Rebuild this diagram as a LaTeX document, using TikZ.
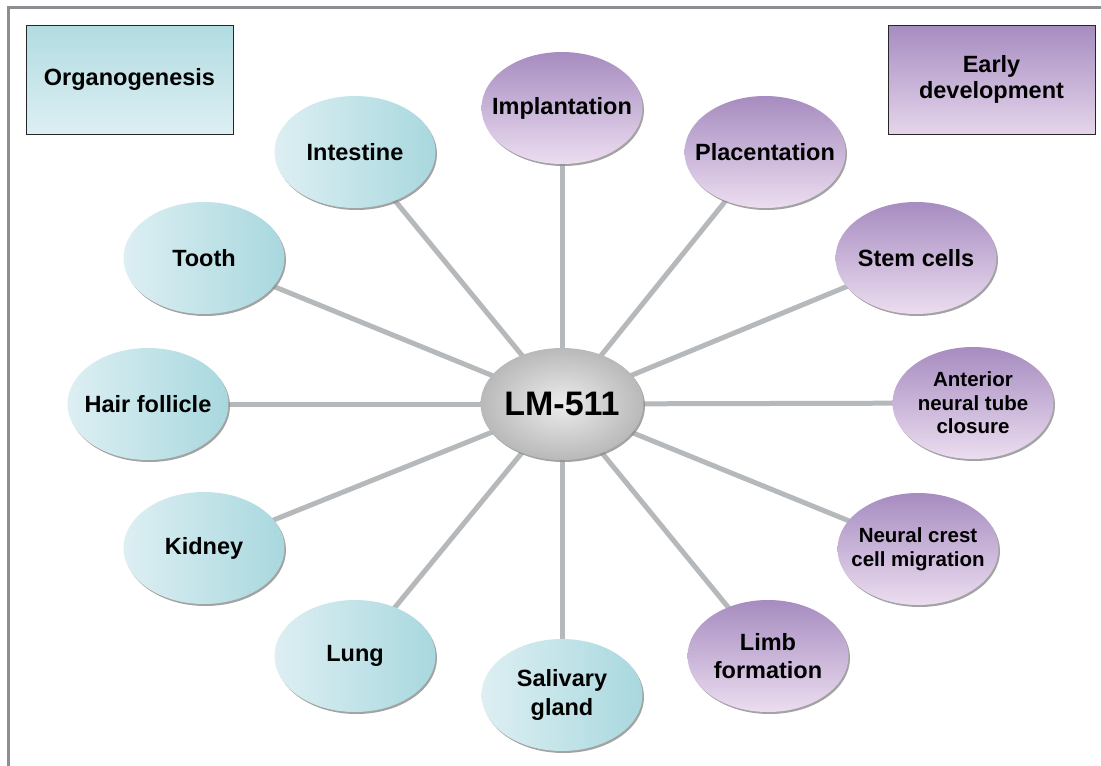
\documentclass[tikz,border=0pt]{standalone}
\usepackage{fontspec}
\setmainfont{Liberation Sans}
\usetikzlibrary{shadows,shapes.geometric}
\definecolor{tealL}{HTML}{DDEFF3}
\definecolor{tealD}{HTML}{A8D8DE}
\definecolor{purD}{HTML}{A68CC0}
\definecolor{purL}{HTML}{ECDDF0}
\definecolor{spoke}{HTML}{B5B9BB}
\definecolor{frame}{HTML}{8E8E92}
\tikzset{
  bub/.style={ellipse, minimum width=161pt, minimum height=112pt, inner sep=0pt, draw=none,
    drop shadow={shadow xshift=1.5pt, shadow yshift=-2pt, fill=black!45, opacity=0.8}},
  organ/.style={bub, left color=tealL, right color=tealD},
  early/.style={bub, top color=purD, bottom color=purL},
  txt/.style={align=center, font=\bfseries\fontsize{23.5}{28.5}\selectfont, inner sep=0pt},
  small/.style={align=center, font=\bfseries\fontsize{20.5}{23.5}\selectfont, inner sep=0pt},
  hub/.style={ellipse, minimum width=160pt, minimum height=112pt, inner sep=0pt,
    font=\bfseries\fontsize{34}{40}\selectfont, inner color=gray!15, outer color=gray!55,
    drop shadow={shadow xshift=1.5pt, shadow yshift=-2pt, fill=black!45, opacity=0.8}},
  box/.style={rectangle, draw=black!85, line width=1pt, minimum width=207pt, minimum height=109pt,
    inner sep=0pt, align=center, font=\bfseries\fontsize{23.5}{26.5}\selectfont},
  spk/.style={draw=spoke, line width=5pt}
}
\begin{document}
\begin{tikzpicture}[x=1pt,y=-1pt]
\useasboundingbox (0,0) rectangle (1101,766);
\draw[frame, line width=3pt] (8.5,766) -- (8.5,7) -- (1101,7);
\node[box, top color=tealD!90, bottom color=tealL] (og) at (129.5,79.5) {Organogenesis};
\node[box, top color=purD, bottom color=purL!90!purD] (ed) at (991.5,79.5) {Early\\development};
\coordinate (c) at (562,404);
\coordinate (p1) at (562,108);
\coordinate (p2) at (765,152);
\coordinate (p3) at (916,258);
\coordinate (p4) at (973,403);
\coordinate (p5) at (918,549);
\coordinate (p6) at (768,656);
\coordinate (t1) at (355,152);
\coordinate (t2) at (204,258);
\coordinate (t3) at (148,404);
\coordinate (t4) at (204,548);
\coordinate (t5) at (355,656);
\coordinate (t6) at (562,695);
\foreach \q in {p1,p2,p3,p4,p5,p6,t1,t2,t3,t4,t5,t6} \draw[spk] (c) -- (\q);
\node[early, label={[txt]center:Implantation}] (impl) at (p1) {};
\node[early, label={[txt]center:Placentation}] (plac) at (p2) {};
\node[early, label={[txt]center:Stem cells}] (stem) at (p3) {};
\node[early, label={[small]center:Anterior\\neural tube\\closure}] (antr) at (p4) {};
\node[early, label={[small]center:Neural crest\\cell migration}] (neur) at (p5) {};
\node[early, label={[txt]center:Limb\\formation}] (limb) at (p6) {};
\node[organ, label={[txt]center:Intestine}] (inte) at (t1) {};
\node[organ, label={[txt]center:Tooth}] (toot) at (t2) {};
\node[organ, label={[txt]center:Hair follicle}] (hair) at (t3) {};
\node[organ, label={[txt]center:Kidney}] (kidn) at (t4) {};
\node[organ, label={[txt]center:Lung}] (lung) at (t5) {};
\node[organ, label={[txt]center:Salivary\\gland}] (sali) at (t6) {};
\node[hub] (lm) at (c) {LM-511};
\end{tikzpicture}
\end{document}
